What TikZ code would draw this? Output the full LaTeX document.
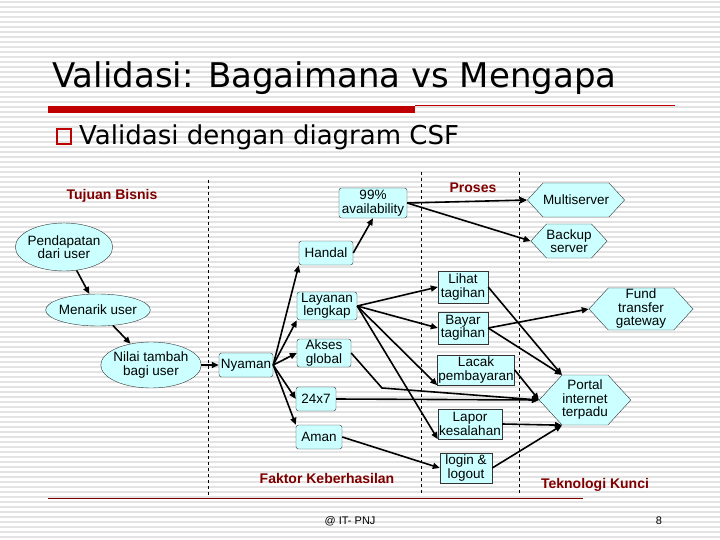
\documentclass[tikz,border=0pt]{standalone}
\usepackage{fontspec}
\setmainfont{Liberation Sans}
\newfontfamily\titlefont{DejaVu Sans}
\usetikzlibrary{shapes.geometric,shapes.symbols,arrows.meta}
\definecolor{boxfill}{RGB}{204,255,255}
\definecolor{darkred}{RGB}{128,0,0}
\definecolor{barred}{RGB}{192,0,0}
\tikzset{
  base/.style={draw=black!80,fill=boxfill,font=\fontsize{13.5}{13.5}\selectfont,align=center,inner sep=1pt},
  rbox/.style={base,rectangle,rounded corners=2.5pt},
  ell/.style={base,ellipse,inner sep=-2pt},
  hex/.style={base,signal,signal to=west and east,signal pointer angle=95,inner sep=0pt},
  lab/.style={font=\fontsize{14}{14}\selectfont\bfseries,text=darkred},
  arr/.style={-{Triangle[length=7pt,width=6pt]},line width=1.6pt},
  sep/.style={dashed,line width=0.7pt}
}
\begin{document}
\begin{tikzpicture}[x=1pt,y=-1pt]
\useasboundingbox (0,0) rectangle (720,540);
\fill[white] (0,0) rectangle (720,540);
\foreach \y in {2,7,...,540} \draw[gray!22,line width=1.6pt] (0,\y) -- (720,\y);
% title
\node[anchor=west,font=\titlefont\fontsize{34}{35}\selectfont,inner sep=0pt] (title) at (52,78) {Validasi: Bagaimana vs Mengapa};
\fill[barred] (48,106) rectangle (415,113);
\draw[barred,line width=0.6pt] (415,105) -- (675,105);
\draw[barred,line width=2pt] (57,129) rectangle (71,144);
\node[anchor=west,font=\titlefont\fontsize{26}{27}\selectfont,inner sep=0pt] (sub) at (79,137) {Validasi dengan diagram CSF};
% separators
\draw[sep] (208,180) -- (208,495);
\draw[sep] (421,172) -- (421,495);
\draw[sep] (519,172) -- (519,495);
\draw[darkred,line width=1pt] (48,498) -- (583,498);
% labels
\node[lab] (tb) at (112,196) {Tujuan Bisnis};
\node[lab] (fk) at (327,478) {Faktor Keberhasilan};
\node[lab] (pr) at (473,188) {Proses};
\node[lab] (tk) at (595,485) {Teknologi Kunci};
% nodes
\node[ell,minimum width=82,minimum height=48] (pend) at (64,247) {Pendapatan\\dari user};
\node[ell,minimum width=82,minimum height=32] (men) at (98,310) {Menarik user};
\node[ell,minimum width=88,minimum height=46] (nil) at (151,365) {Nilai tambah\\bagi user};
\node[rbox,minimum width=54,minimum height=24] (nya) at (246,365) {Nyaman};
\node[rbox,minimum width=54,minimum height=24] (han) at (326,253) {Handal};
\node[rbox,minimum width=68,minimum height=30] (avl) at (373,203) {99\%\\availability};
\node[rbox,minimum width=60,minimum height=28] (lay) at (327,306) {Layanan\\lengkap};
\node[rbox,minimum width=54,minimum height=28] (aks) at (324,353) {Akses\\global};
\node[rbox,minimum width=40,minimum height=24] (h24) at (316,399) {24x7};
\node[rbox,minimum width=46,minimum height=24] (ama) at (319,437) {Aman};
\node[hex,minimum width=88,minimum height=34] (mul) at (576,200) {Multiserver};
\node[hex,minimum width=72,minimum height=34] (bak) at (569,241) {Backup\\server};
\node[base,minimum width=50,minimum height=32] (lih) at (463,287) {Lihat\\tagihan};
\node[base,minimum width=50,minimum height=32] (bay) at (463,328) {Bayar\\tagihan};
\node[base,minimum width=72,minimum height=30] (lac) at (476,370) {Lacak\\pembayaran};
\node[base,minimum width=64,minimum height=30] (lap) at (470,424) {Lapor\\kesalahan};
\node[base,minimum width=52,minimum height=30] (log) at (466,468) {login \&\\logout};
\node[hex,minimum width=104,minimum height=42] (fun) at (641,309) {Fund\\transfer\\gateway};
\node[hex,minimum width=70,minimum height=50] (por) at (585,400) {Portal\\internet\\terpadu};
\coordinate (bend) at (382,388);
% edges
\draw[arr] (pend) -- (men);
\draw[arr] (men) -- (nil);
\draw[arr] (nil) -- (nya);
\draw[arr] (nya.east) -- (han.south west);
\draw[arr] (nya.east) -- (lay.south west);
\draw[arr] (nya.east) -- (aks.west);
\draw[arr] (nya.east) -- (h24.west);
\draw[arr] (nya.east) -- (ama.north west);
\draw[arr] (han.east) -- (avl.south);
\draw[arr] (avl.east) -- (mul.west);
\draw[arr] (avl.east) -- (bak.west);
\draw[arr] (lay.east) -- (lih.west);
\draw[arr] (lay.east) -- (bay.west);
\draw[arr] (lay.east) -- (lac.south west);
\draw[arr] (lay.east) -- (lap.south west);
\draw[arr] (aks.east) -- (bend) -- (por.west);
\draw[arr] (h24.east) -- (por.west);
\draw[arr] (ama.east) -- (log.west);
\draw[arr] (lih.east) -- (por.north west);
\draw[arr] (bay.east) -- (por.north west);
\draw[arr] (bay.east) -- (fun.west);
\draw[arr] (lac.east) -- (por.west);
\draw[arr] (lap.east) -- (por.south west);
\draw[arr] (log.east) -- (por.south west);
% footer
\node[font=\fontsize{11}{12}\selectfont] (foot) at (350,521) {@ IT- PNJ};
\node[font=\fontsize{11}{12}\selectfont] (pg) at (659,521) {8};
\end{tikzpicture}
\end{document}
